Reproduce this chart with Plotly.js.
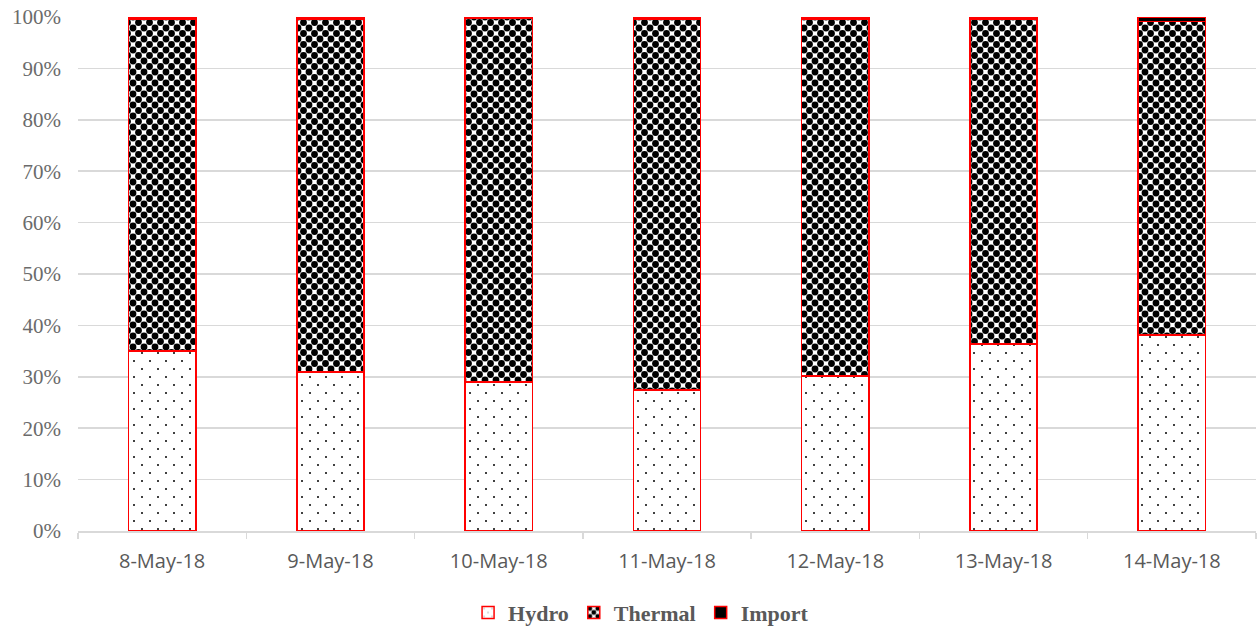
<!DOCTYPE html>
<html>
<head>
<meta charset="utf-8">
<script src="https://cdn.plot.ly/plotly-3.0.1.min.js"></script>
<style>html,body{margin:0;padding:0;background:#fff;}#chart{width:1257px;height:629px;}</style>
</head>
<body>
<div id="chart"></div>
<script>
var categories = ["8-May-18", "9-May-18", "10-May-18", "11-May-18", "12-May-18", "13-May-18", "14-May-18"];
var hydro = [35.0, 30.9, 29.0, 27.4, 30.2, 36.4, 38.1];
var importShare = [0.4, 0.4, 0.3, 0.4, 0.4, 0.4, 0.9];
var thermal = hydro.map(function (h, i) { return +(100 - h - importShare[i]).toFixed(1); });
var yTicks = [0, 10, 20, 30, 40, 50, 60, 70, 80, 90, 100];

var redLine = {color: "#ff0000", width: 1.5};
var traces = [
  {type: "bar", name: "Hydro", x: categories, y: hydro,
   marker: {color: "#ffffff", line: redLine,
            pattern: {shape: ".", fgcolor: "#000000", bgcolor: "#ffffff", size: 16, solidity: 0.012}}},
  {type: "bar", name: "Thermal", x: categories, y: thermal,
   marker: {color: "#ffffff", line: redLine,
            pattern: {shape: ".", fgcolor: "#000000", bgcolor: "#ffffff", size: 11, solidity: 0.3}}},
  {type: "bar", name: "Import", x: categories, y: importShare,
   marker: {color: "#000000", line: redLine}}
];

var layout = {
  width: 1257, height: 629,
  margin: {l: 78, r: 1, t: 17, b: 98, autoexpand: false},
  barmode: "stack",
  bargap: 0.6,
  paper_bgcolor: "#ffffff",
  plot_bgcolor: "#ffffff",
  showlegend: true,
  legend: {orientation: "h", x: 0.51, xanchor: "center", xref: "container",
           y: 0.026, yanchor: "middle", yref: "container",
           font: {family: "Liberation Serif, DejaVu Serif, serif", size: 22, color: "#595959", weight: "bold"},
           traceorder: "normal", itemwidth: 30},
  xaxis: {type: "category", tickson: "boundaries", ticks: "outside", ticklen: 6, tickcolor: "#d9d9d9",
          tickwidth: 1.5, showline: true, linecolor: "#d9d9d9", linewidth: 1.5, showgrid: false,
          ticklabelstandoff: 11,
          tickfont: {family: "Open Sans, Liberation Sans, sans-serif", size: 20, color: "#595959"}},
  yaxis: {range: [0, 100], tickvals: yTicks, ticktext: yTicks.map(function (v) { return v + "%"; }),
          showgrid: true, gridcolor: "#d9d9d9", gridwidth: 1.5, zeroline: false, showline: false,
          ticks: "", ticklabelstandoff: 16,
          tickfont: {family: "Liberation Serif, DejaVu Serif, serif", size: 21, color: "#6b6b6b"}}
};

function staggerDots() {
  // turn each single-dot tile into a staggered (checker) dot tile
  document.querySelectorAll("#chart pattern").forEach(function (p) {
    var c = p.querySelector("circle");
    if (!c || p.getAttribute("data-stag")) return;
    var w = parseFloat(p.getAttribute("width"));
    var h = parseFloat(p.getAttribute("height"));
    [[0, 0], [w, 0], [0, h], [w, h]].forEach(function (pt) {
      var n = c.cloneNode(false);
      n.setAttribute("cx", pt[0]);
      n.setAttribute("cy", pt[1]);
      p.appendChild(n);
    });
    p.setAttribute("data-stag", "1");
  });
}

Plotly.newPlot("chart", traces, layout, {displayModeBar: false, staticPlot: true}).then(staggerDots);
</script>
</body>
</html>
